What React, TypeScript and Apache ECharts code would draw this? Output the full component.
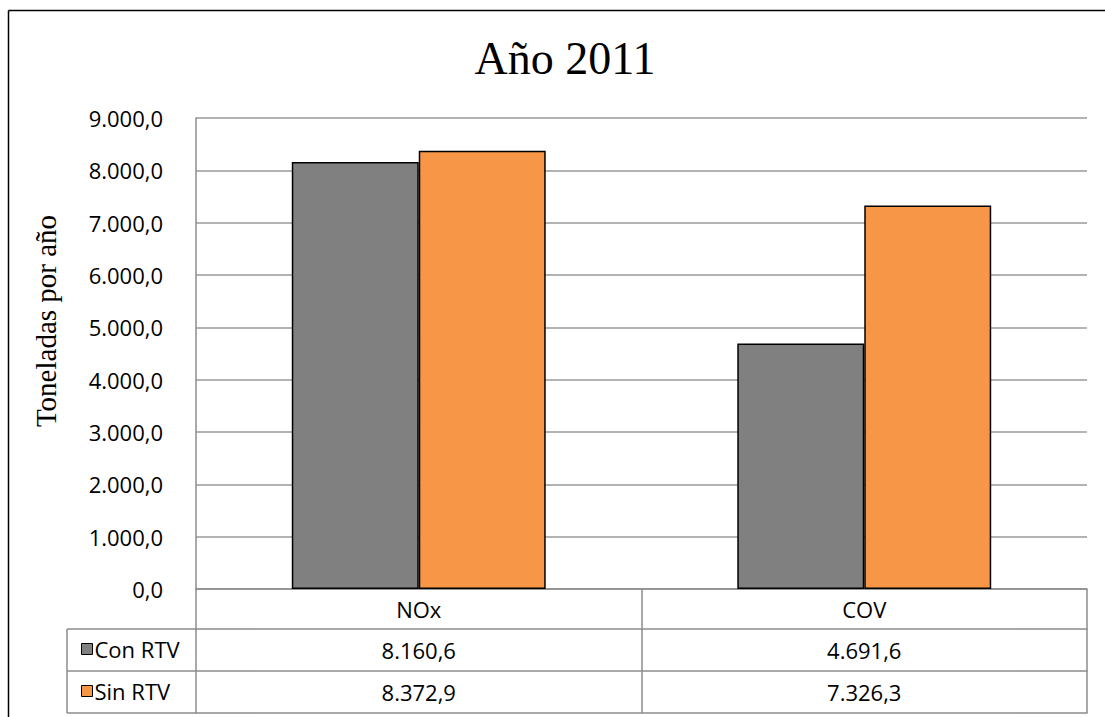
import React, { useEffect, useRef } from "react";
import * as echarts from "echarts";

// Emissions in tonnes per year, 2011
const categories = ["NOx", "COV"];
const seriesNames = ["Con RTV", "Sin RTV"];
const conRTV = [8160.6, 4691.6];
const sinRTV = [8372.9, 7326.3];
const yTicks = { min: 0, max: 9000, interval: 1000 };

const titleText = "Año 2011";
const yAxisName = "Toneladas por año";

// Plot area in page pixels
const GRID_LEFT = 196;
const GRID_RIGHT = 1087;
const GRID_TOP = 118;
const GRID_BOTTOM = 589;
const ROW_H = [40, 42, 42];
const LEGEND_COL_LEFT = 67;

const TABLE_LINE = "#8c8c8c";
const SANS = "'Open Sans', 'Noto Sans', sans-serif";
const SERIF = "'Liberation Serif', 'DejaVu Serif', serif";
const FONT_SIZE = 22;

// Spanish number format: 8160.6 -> "8.160,6"
function fmt(v: number, decimals = 1): string {
  const fixed = Math.abs(v).toFixed(decimals);
  const [intPart, dec] = fixed.split(".");
  const grouped = intPart.replace(/\B(?=(\d{3})+(?!\d))/g, ".");
  return (v < 0 ? "-" : "") + grouped + (dec ? "," + dec : "");
}

export default function App() {
  const ref = useRef<HTMLDivElement>(null);

  useEffect(() => {
    if (!ref.current) return;
    const chart = echarts.init(ref.current, undefined, { renderer: "svg" });

    const row1 = GRID_BOTTOM + ROW_H[0];
    const row2 = row1 + ROW_H[1];
    const row3 = row2 + ROW_H[2];

    const tableAxis = (offset: number, tickLen: number, labels: ((i: number) => string) | null) => ({
      type: "category",
      data: categories,
      position: "bottom",
      offset,
      boundaryGap: true,
      axisLine: { show: true, lineStyle: { color: TABLE_LINE, width: 1.5 } },
      axisTick: {
        show: tickLen > 0,
        alignWithLabel: false,
        length: tickLen,
        lineStyle: { color: TABLE_LINE, width: 1.5 },
      },
      axisLabel: labels
        ? {
            show: true,
            margin: tickLen / 2,
            verticalAlign: "middle",
            fontFamily: SANS,
            fontSize: FONT_SIZE,
            color: "#000",
            formatter: (_v: string, i: number) => labels(i),
          }
        : { show: false },
      splitLine: { show: false },
    });

    chart.setOption({
      animation: false,
      backgroundColor: "#fff",
      title: {
        text: titleText,
        left: 560,
        top: 30,
        textAlign: "center",
        textStyle: { fontFamily: SERIF, fontSize: 46, fontWeight: "normal", color: "#000" },
      },
      grid: {
        left: GRID_LEFT,
        right: 1105 - GRID_RIGHT,
        top: GRID_TOP,
        bottom: 717 - GRID_BOTTOM,
        containLabel: false,
      },
      legend: {
        orient: "vertical",
        left: 76,
        top: GRID_BOTTOM + ROW_H[0] + 4,
        itemWidth: 11,
        itemHeight: 11,
        itemGap: 20,
        data: seriesNames,
        icon: "rect",
        itemStyle: { borderColor: "#000", borderWidth: 1 },
        textStyle: { fontFamily: SANS, fontSize: FONT_SIZE, color: "#000", lineHeight: 22, padding: [0, 0, 0, -3] },
        selectedMode: false,
      },
      xAxis: [
        tableAxis(0, ROW_H[0], (i) => categories[i]),
        tableAxis(ROW_H[0], ROW_H[1], (i) => fmt(conRTV[i])),
        tableAxis(ROW_H[0] + ROW_H[1], ROW_H[2], (i) => fmt(sinRTV[i])),
        tableAxis(ROW_H[0] + ROW_H[1] + ROW_H[2], 0, null),
      ],
      yAxis: {
        type: "value",
        min: yTicks.min,
        max: yTicks.max,
        interval: yTicks.interval,
        axisLine: { show: true, lineStyle: { color: TABLE_LINE, width: 1.5 } },
        axisTick: { show: false },
        axisLabel: {
          margin: 33,
          fontFamily: SANS,
          fontSize: FONT_SIZE,
          color: "#000",
          formatter: (v: number) => fmt(v),
        },
        splitLine: { show: true, lineStyle: { color: "#9a9a9a", width: 1.5 } },
      },
      series: [
        {
          name: seriesNames[0],
          type: "bar",
          data: conRTV,
          barGap: "0%",
          barCategoryGap: "43%",
          itemStyle: { color: "#808080", borderColor: "#000", borderWidth: 1.5 },
        },
        {
          name: seriesNames[1],
          type: "bar",
          data: sinRTV,
          barGap: "0%",
          barCategoryGap: "43%",
          itemStyle: { color: "#F79646", borderColor: "#000", borderWidth: 1.5 },
        },
      ],
      graphic: [
        // outer chart frame (top and left edges visible)
        { type: "line", shape: { x1: 8.5, y1: 10.5, x2: 1105, y2: 10.5 }, style: { stroke: "#000", lineWidth: 1.5 } },
        { type: "line", shape: { x1: 8.5, y1: 10.5, x2: 8.5, y2: 717 }, style: { stroke: "#000", lineWidth: 1.5 } },
        // value axis title
        {
          type: "text",
          x: 46,
          y: 321,
          rotation: Math.PI / 2,
          style: {
            text: yAxisName,
            fontFamily: SERIF,
            fontSize: 29,
            fill: "#000",
            textAlign: "center",
            textVerticalAlign: "middle",
          },
        },
        // legend column of the data table
        ...[row1, row2, row3].map((y) => ({
          type: "line",
          shape: { x1: LEGEND_COL_LEFT, y1: y, x2: GRID_LEFT, y2: y },
          style: { stroke: TABLE_LINE, lineWidth: 1.5 },
        })),
        {
          type: "line",
          shape: { x1: LEGEND_COL_LEFT, y1: row1, x2: LEGEND_COL_LEFT, y2: row3 },
          style: { stroke: TABLE_LINE, lineWidth: 1.5 },
        },
      ],
    });

    return () => chart.dispose();
  }, []);

  return (
    <div
      ref={ref}
      style={{ position: "absolute", left: 0, top: 0, width: 1105, height: 717 }}
    />
  );
}
